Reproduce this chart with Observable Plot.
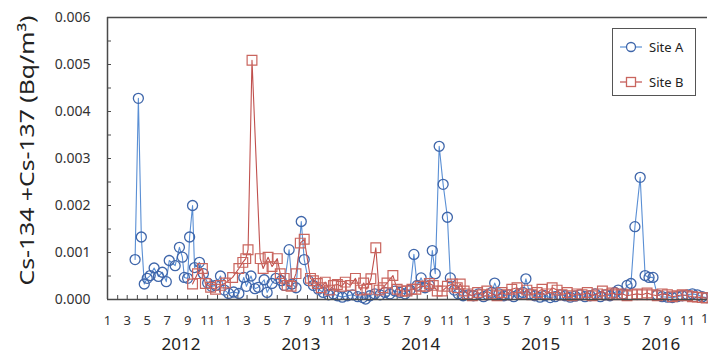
<!DOCTYPE html>
<html><head><meta charset="utf-8">
<script src="https://cdn.jsdelivr.net/npm/d3@7"></script>
<script src="https://cdn.jsdelivr.net/npm/@observablehq/plot@0.6"></script>
<style>
body{margin:0;background:#fff;font-family:"Noto Sans",sans-serif;}
#wrap{position:relative;width:708px;height:356px;overflow:hidden;}
#legend{position:absolute;left:612px;top:28px;width:84px;height:68px;border:1px solid #555;background:#fff;font-size:13px;color:#222;box-sizing:border-box;}
.ent{position:absolute;left:6px;display:flex;align-items:center;gap:6px;}
</style></head>
<body><div id="wrap"><div id="chart"></div>
<div id="legend">
<div class="ent" style="top:9px"><svg width="24" height="14"><line x1="1" y1="7" x2="23" y2="7" stroke="#5a8fd4" stroke-width="1.2"/><circle cx="12" cy="7" r="4.5" fill="#fff" stroke="#3f66aa" stroke-width="1.3"/></svg><span>Site A</span></div>
<div class="ent" style="top:44px"><svg width="24" height="14"><line x1="1" y1="7" x2="23" y2="7" stroke="#c0504d" stroke-width="1.2"/><rect x="7.5" y="2.5" width="9" height="9" fill="#fff" stroke="#c9655e" stroke-width="1.3"/></svg><span>Site B</span></div>
</div></div>
<script>
const siteADates = ["2012-03-25","2012-04-04","2012-04-13","2012-04-22","2012-05-01","2012-05-10","2012-05-22","2012-06-04","2012-06-16","2012-06-28","2012-07-07","2012-07-25","2012-08-07","2012-08-16","2012-08-22","2012-09-01","2012-09-07","2012-09-16","2012-09-22","2012-10-07","2012-10-19","2012-11-01","2012-11-13","2012-11-25","2012-12-10","2012-12-22",
"2013-01-04","2013-01-19","2013-02-04","2013-02-19","2013-02-27","2013-03-13","2013-03-25","2013-04-04","2013-04-22","2013-05-01","2013-05-16","2013-05-28","2013-06-13","2013-06-22","2013-07-07","2013-07-16","2013-07-28","2013-08-13","2013-08-22","2013-09-04","2013-09-19","2013-10-04","2013-10-19","2013-11-04","2013-11-19","2013-12-01","2013-12-16",
"2014-01-01","2014-01-16","2014-02-01","2014-02-16","2014-02-25","2014-03-10","2014-03-25","2014-04-10","2014-04-25","2014-05-10","2014-05-25","2014-06-10","2014-06-25","2014-07-10","2014-07-22","2014-08-01","2014-08-13","2014-08-25","2014-09-07","2014-09-16","2014-09-25","2014-10-07","2014-10-19","2014-11-01","2014-11-10","2014-11-22","2014-12-04","2014-12-19",
"2015-01-04","2015-01-19","2015-02-04","2015-02-19","2015-03-04","2015-03-16","2015-03-25","2015-04-07","2015-04-22","2015-05-07","2015-05-22","2015-06-07","2015-06-19","2015-06-28","2015-07-10","2015-07-25","2015-08-10","2015-08-25","2015-09-10","2015-09-25","2015-10-10","2015-10-25","2015-11-10","2015-11-25","2015-12-10","2015-12-25",
"2016-01-10","2016-01-25","2016-02-10","2016-02-25","2016-03-10","2016-03-25","2016-04-04","2016-04-19","2016-05-01","2016-05-13","2016-05-25","2016-06-10","2016-06-25","2016-07-07","2016-07-19","2016-08-01","2016-08-16","2016-09-01","2016-09-16","2016-10-01","2016-10-16","2016-11-01","2016-11-16","2016-12-01","2016-12-16","2016-12-28"];
const siteAValues = [0.00085,0.00428,0.00133,0.00033,0.00045,0.00051,0.00067,0.00049,0.00058,0.00038,0.00083,0.00072,0.00111,0.00090,0.00047,0.00045,0.00133,0.00200,0.00068,0.00079,0.00055,0.00035,0.00028,0.00030,0.00050,0.00020,
0.00013,0.00016,0.00013,0.00047,0.00028,0.00050,0.00023,0.00026,0.00042,0.00015,0.00034,0.00045,0.00040,0.00030,0.00106,0.00033,0.00025,0.00166,0.00085,0.00040,0.00030,0.00022,0.00015,0.00010,0.00012,0.00008,0.00005,
0.00008,0.00010,0.00006,0.00004,0.00001,0.00008,0.00012,0.00010,0.00015,0.00012,0.00018,0.00015,0.00012,0.00020,0.00096,0.00030,0.00046,0.00025,0.00030,0.00104,0.00055,0.00326,0.00245,0.00175,0.00046,0.00020,0.00012,0.00008,
0.00010,0.00008,0.00012,0.00006,0.00010,0.00015,0.00035,0.00012,0.00008,0.00010,0.00006,0.00012,0.00015,0.00044,0.00012,0.00008,0.00005,0.00008,0.00004,0.00006,0.00010,0.00008,0.00005,0.00007,0.00010,0.00006,
0.00008,0.00012,0.00006,0.00010,0.00008,0.00015,0.00020,0.00012,0.00030,0.00034,0.00155,0.00260,0.00051,0.00047,0.00047,0.00010,0.00006,0.00005,0.00004,0.00006,0.00008,0.00010,0.00012,0.00010,0.00006,0.00004];

const siteBDates = ["2012-09-16","2012-10-01","2012-10-16","2012-10-25","2012-11-10","2012-11-25","2012-12-10","2012-12-25",
"2013-01-16","2013-02-04","2013-02-16","2013-02-25","2013-03-04","2013-03-16","2013-04-10","2013-04-19","2013-05-04","2013-05-16","2013-06-01","2013-06-10","2013-06-22","2013-07-01","2013-07-13","2013-07-28","2013-08-10","2013-08-22","2013-09-10","2013-09-19","2013-10-01","2013-10-13","2013-10-25","2013-11-07","2013-11-19","2013-12-01","2013-12-13","2013-12-25",
"2014-01-10","2014-01-25","2014-02-10","2014-02-19","2014-03-01","2014-03-13","2014-03-28","2014-04-07","2014-04-19","2014-05-01","2014-05-19","2014-06-01","2014-06-16","2014-07-01","2014-07-16","2014-07-28","2014-08-10","2014-08-25","2014-09-07","2014-09-19","2014-10-01","2014-10-16","2014-11-01","2014-11-16","2014-12-01","2014-12-10","2014-12-22",
"2015-01-01","2015-01-16","2015-02-01","2015-02-16","2015-03-01","2015-03-16","2015-04-01","2015-04-16","2015-05-01","2015-05-16","2015-06-01","2015-06-16","2015-07-01","2015-07-16","2015-08-01","2015-08-16","2015-09-01","2015-09-16","2015-10-01","2015-10-16","2015-11-01","2015-11-16","2015-12-01","2015-12-16",
"2016-01-01","2016-01-16","2016-02-01","2016-02-16","2016-03-01","2016-03-16","2016-04-01","2016-04-16","2016-05-01","2016-05-16","2016-06-01","2016-06-16","2016-07-01","2016-07-16","2016-08-01","2016-08-16","2016-09-01","2016-09-16","2016-10-01","2016-10-16","2016-11-01","2016-11-16","2016-12-01","2016-12-16","2016-12-28"];
const siteBValues = [0.00033,0.00055,0.00066,0.00034,0.00026,0.00022,0.00030,0.00035,
0.00047,0.00066,0.00079,0.00087,0.00106,0.00509,0.00087,0.00066,0.00090,0.00070,0.00087,0.00055,0.00045,0.00030,0.00028,0.00055,0.00120,0.00128,0.00045,0.00040,0.00034,0.00025,0.00037,0.00020,0.00030,0.00032,0.00028,0.00037,
0.00030,0.00045,0.00020,0.00035,0.00022,0.00044,0.00110,0.00020,0.00025,0.00035,0.00051,0.00022,0.00018,0.00018,0.00022,0.00022,0.00028,0.00028,0.00034,0.00030,0.00018,0.00018,0.00028,0.00033,0.00025,0.00033,0.00018,
0.00012,0.00008,0.00015,0.00010,0.00018,0.00012,0.00008,0.00015,0.00010,0.00022,0.00025,0.00012,0.00020,0.00010,0.00015,0.00022,0.00012,0.00025,0.00020,0.00010,0.00015,0.00008,0.00012,0.00010,
0.00015,0.00008,0.00012,0.00018,0.00010,0.00014,0.00010,0.00012,0.00008,0.00010,0.00012,0.00010,0.00014,0.00010,0.00008,0.00012,0.00010,0.00006,0.00008,0.00010,0.00008,0.00006,0.00005,0.00004,0.00003];

const yTickLabels = [0, 0.001, 0.002, 0.003, 0.004, 0.005, 0.006];
const yMinorTicks = [0.0005, 0.001, 0.0015, 0.002, 0.0025, 0.003, 0.0035, 0.004, 0.0045, 0.005, 0.0055];
const years = [2012, 2013, 2014, 2015, 2016];
const yAxisLabel = "Cs-134 +Cs-137 (Bq/m³)";

const parse = d3.utcParse("%Y-%m-%d");
const aX = siteADates.map(parse);
const bX = siteBDates.map(parse);
const start = new Date(Date.UTC(2012, 0, 1));
const end = new Date(Date.UTC(2017, 0, 1));
const allMonths = d3.utcMonth.range(start, end);
const oddMonths = d3.utcMonth.every(2).range(start, end);

const W = 708, H = 356, mL = 107, mR = 1, mT = 17, mB = 57;
const frameW = W - mL - mR, frameH = H - mT - mB;
const axisColor = "#4a4a4a";

const chart = Plot.plot({
  width: W, height: H,
  marginLeft: mL, marginRight: mR, marginTop: mT, marginBottom: mB,
  style: {fontFamily: "Noto Sans, sans-serif", fontSize: "13px", color: "#333", background: "#fff"},
  x: {type: "utc", domain: [start, end]},
  y: {domain: [0, 0.006]},
  marks: [
    Plot.axisY({ticks: yTickLabels, tickFormat: d3.format(".3f"), tickSize: 0, tickPadding: 17, fontSize: 14, label: null}),
    Plot.axisX({ticks: oddMonths, tickFormat: d => d.getUTCMonth() + 1, tickSize: 0, tickPadding: 16, fontSize: 13, label: null}),
    Plot.text([end], {x: d => d, frameAnchor: "bottom", dy: 23, textAnchor: "end", dx: 1, text: d => String(d.getUTCMonth() + 1), fontSize: 13, fill: "#333"}),
    Plot.text(years, {x: d => new Date(Date.UTC(d, 7, 12)), frameAnchor: "bottom", dy: 50, text: d => String(d), fontSize: 17, fill: "#222"}),
    Plot.text([yAxisLabel], {frameAnchor: "left", textAnchor: "middle", dx: -80, dy: -8, rotate: -90, text: d => d, fontSize: 20, fill: "#222", className: "ylab"}),
    Plot.tickY(yMinorTicks, {y: d => d, insetRight: frameW - 4, stroke: axisColor, strokeWidth: 1}),
    Plot.tickX(allMonths, {x: d => d, insetTop: frameH - 4, stroke: axisColor, strokeWidth: 1}),
    Plot.line(siteAValues, {x: aX, y: siteAValues, stroke: "#5a8fd4", strokeWidth: 1.1}),
    Plot.dot(siteAValues, {x: aX, y: siteAValues, r: 5, fill: "none", stroke: "#3f66aa", strokeWidth: 1.3}),
    Plot.line(siteBValues, {x: bX, y: siteBValues, stroke: "#c0504d", strokeWidth: 1.1}),
    Plot.dot(siteBValues, {x: bX, y: siteBValues, r: 5.5, symbol: "square", fill: "none", stroke: "#c9655e", strokeWidth: 1.2}),
    Plot.ruleY([0, 0.006], {stroke: axisColor, strokeWidth: 1.5}),
    Plot.ruleX([start], {stroke: axisColor, strokeWidth: 1.5})
  ]
});
chart.querySelectorAll(".ylab text").forEach(t => {
  t.setAttribute("textLength", "270");
  t.setAttribute("lengthAdjust", "spacingAndGlyphs");
});
document.getElementById("chart").appendChild(chart);
</script>
</body></html>
